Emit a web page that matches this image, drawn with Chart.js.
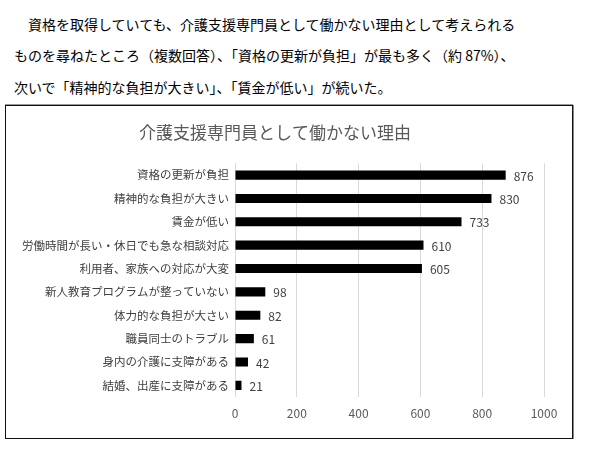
<!DOCTYPE html>
<html><head><meta charset="utf-8">
<script src="https://cdn.jsdelivr.net/npm/chart.js@4/dist/chart.umd.min.js"></script>
<style>
html,body{margin:0;padding:0;background:#fff;width:606px;height:449px;overflow:hidden;}
.p{position:absolute;font-family:'Noto Sans CJK JP',sans-serif;font-size:14px;font-weight:400;color:#000;white-space:nowrap;line-height:20px;}
#box{position:absolute;left:5px;top:105px;width:566px;height:332px;border:1px solid #111;box-shadow:1px 0 0 #888,0 -1px 0 #999;background:#fff;}
#wrap{position:absolute;left:0;top:0;width:566px;height:332px;}
</style></head><body>
<div class="p" style="left:28px;top:14px;">資格を取得していても、介護支援専門員として働かない理由として考えられる</div>
<div class="p" style="left:14px;top:45px;">ものを尋ねたところ（複数回答）、「資格の更新が負担」が最も多く（約 87%）、</div>
<div class="p" style="left:14px;top:77px;">次いで「精神的な負担が大きい」、「賃金が低い」が続いた。</div>
<div id="box"><div id="wrap"><canvas id="c"></canvas></div></div>
<script>
const chartTitle = '介護支援専門員として働かない理由';
const categories = ['資格の更新が負担','精神的な負担が大きい','賃金が低い','労働時間が長い・休日でも急な相談対応','利用者、家族への対応が大変','新人教育プログラムが整っていない','体力的な負担が大さい','職員同士のトラブル','身内の介護に支障がある','結婚、出産に支障がある'];
const values = [876,830,733,610,605,98,82,61,42,21];
const xTicks = [0,200,400,600,800,1000];

const FONT = "'Noto Sans CJK JP','Noto Sans',sans-serif";
const valueLabels = {
  id:'valueLabels',
  afterDatasetsDraw(chart){
    const ctx = chart.ctx;
    const meta = chart.getDatasetMeta(0);
    ctx.save();
    ctx.font = '12px ' + FONT;
    ctx.fillStyle = '#404040';
    ctx.textAlign = 'left';
    ctx.textBaseline = 'middle';
    meta.data.forEach((bar,i)=>{
      ctx.fillText(String(values[i]), bar.x + 8, bar.y + 1);
    });
    ctx.restore();
  }
};

new Chart(document.getElementById('c'),{
  type:'bar',
  data:{labels:categories,datasets:[{data:values,backgroundColor:'#000',borderWidth:0,barPercentage:0.39,categoryPercentage:1}]},
  options:{
    indexAxis:'y',
    responsive:true,maintainAspectRatio:false,animation:false,
    layout:{padding:{left:0,right:28,top:0,bottom:0}},
    plugins:{
      legend:{display:false},tooltip:{enabled:false},
      title:{display:true,text:chartTitle,color:'#595959',font:{family:FONT,size:17,weight:'normal'},padding:{top:16,bottom:21}}
    },
    scales:{
      x:{min:0,max:1000,
        afterBuildTicks(s){s.ticks = xTicks.map(v=>({value:v}));},
        afterFit(s){s.height = 41;},
        grid:{color:'#d9d9d9',drawTicks:false},border:{display:false},
        ticks:{color:'#595959',font:{family:FONT,size:12},padding:9,callback:(v)=>String(v)}
      },
      y:{
        afterFit(s){s.width = 229;},
        grid:{display:false,drawTicks:false},border:{display:false},
        ticks:{color:'#404040',font:{family:FONT,size:11.5},padding:6,autoSkip:false}
      }
    }
  },
  plugins:[valueLabels]
});
</script>
</body></html>
